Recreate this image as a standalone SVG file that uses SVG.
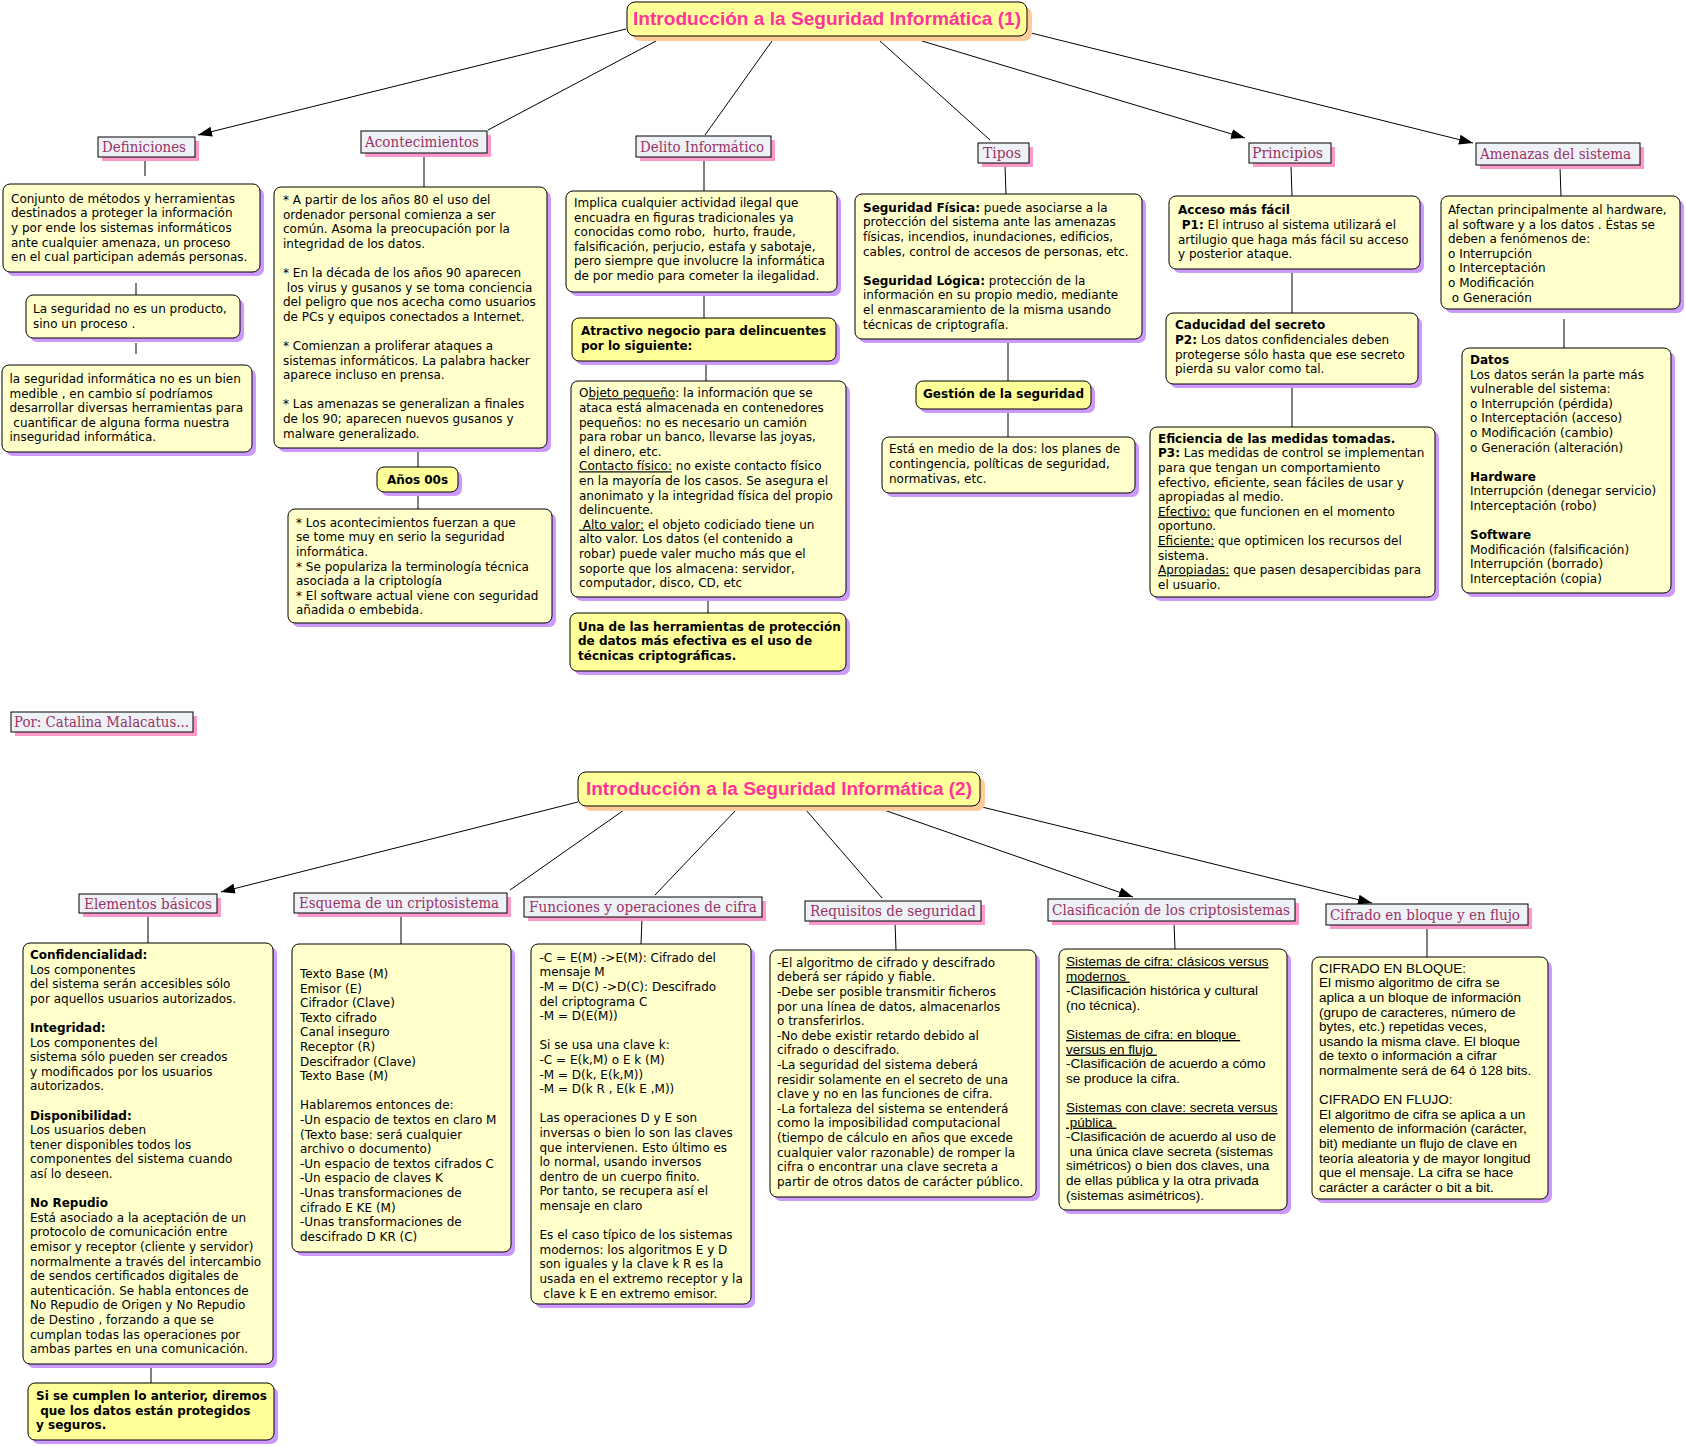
<svg xmlns="http://www.w3.org/2000/svg" width="1686" height="1446" viewBox="0 0 1686 1446">
<style>
.t{font-family:"DejaVu Sans",Verdana,sans-serif;font-size:12px;fill:#000}
.a{font-family:"Liberation Sans",Arial,sans-serif;font-size:13.5px;fill:#000}
.b{font-weight:bold}
.u{text-decoration:underline}
.box{fill:#FFFFCC;stroke:#000;stroke-width:1}
.hbox{fill:#FFFF99;stroke:#000;stroke-width:1}
.sh{fill:#CC99FF}
.lbl{fill:#EEF2F6;stroke:#000;stroke-width:1}
.lsh{fill:#FF99CC}
.lt{font-family:"DejaVu Serif","Liberation Serif",serif;font-size:14px;fill:#993366}
.ttl{fill:#FFFF99;stroke:#000;stroke-width:1}
.tsh{fill:#FFCC99}
.tt{font-family:"Liberation Sans",Arial,sans-serif;font-weight:bold;font-size:18px;fill:#FF3399}
.ln{stroke:#000;stroke-width:1;fill:none}
</style>
<defs>
<marker id="ah" markerWidth="14" markerHeight="10" refX="14" refY="5" orient="auto" markerUnits="userSpaceOnUse">
<path d="M0,0 L14,5 L0,10 z" fill="#000"/>
</marker>
</defs>
<rect width="1686" height="1446" fill="#fff"/>

<g id="connectors">
<line class="ln" x1="626" y1="29" x2="198" y2="135" marker-end="url(#ah)"/>
<line class="ln" x1="656" y1="41" x2="488" y2="130"/>
<line class="ln" x1="772" y1="41" x2="705" y2="135"/>
<line class="ln" x1="880" y1="41" x2="990" y2="140"/>
<line class="ln" x1="922" y1="41" x2="1245" y2="138" marker-end="url(#ah)"/>
<line class="ln" x1="1031" y1="33" x2="1473" y2="143" marker-end="url(#ah)"/>
<line class="ln" x1="578" y1="802" x2="221" y2="892" marker-end="url(#ah)"/>
<line class="ln" x1="624" y1="810" x2="510" y2="890"/>
<line class="ln" x1="736" y1="810" x2="655" y2="895"/>
<line class="ln" x1="806" y1="810" x2="882" y2="898"/>
<line class="ln" x1="884" y1="810" x2="1133" y2="897" marker-end="url(#ah)"/>
<line class="ln" x1="982" y1="807" x2="1372" y2="903" marker-end="url(#ah)"/>
<line class="ln" x1="145" y1="160" x2="145" y2="176"/>
<line class="ln" x1="136" y1="283" x2="136" y2="295"/>
<line class="ln" x1="136" y1="343" x2="136" y2="354"/>
<line class="ln" x1="424" y1="155" x2="424" y2="187"/>
<line class="ln" x1="418" y1="452" x2="418" y2="467"/>
<line class="ln" x1="418" y1="494" x2="418" y2="509"/>
<line class="ln" x1="704" y1="159" x2="704" y2="191"/>
<line class="ln" x1="704" y1="295" x2="704" y2="318"/>
<line class="ln" x1="706" y1="364" x2="706" y2="381"/>
<line class="ln" x1="708" y1="600" x2="708" y2="613"/>
<line class="ln" x1="1005" y1="165" x2="1006" y2="194"/>
<line class="ln" x1="1008" y1="342" x2="1008" y2="381"/>
<line class="ln" x1="1008" y1="413" x2="1008" y2="437"/>
<line class="ln" x1="1291" y1="166" x2="1292" y2="196"/>
<line class="ln" x1="1292" y1="272" x2="1292" y2="313"/>
<line class="ln" x1="1292" y1="387" x2="1292" y2="427"/>
<line class="ln" x1="1560" y1="167" x2="1561" y2="196"/>
<line class="ln" x1="1564" y1="319" x2="1564" y2="348"/>
<line class="ln" x1="148" y1="914" x2="148" y2="943"/>
<line class="ln" x1="151" y1="1367" x2="151" y2="1383"/>
<line class="ln" x1="401" y1="914" x2="401" y2="944"/>
<line class="ln" x1="642" y1="918" x2="641" y2="944"/>
<line class="ln" x1="895" y1="922" x2="896" y2="950"/>
<line class="ln" x1="1174" y1="922" x2="1175" y2="949"/>
<line class="ln" x1="1427" y1="926" x2="1427" y2="957"/>
</g>

<g id="title1">
<rect class="tsh" x="632" y="7" width="400" height="34" rx="8"/>
<rect class="ttl" x="627" y="2" width="400" height="34" rx="8"/>
<text class="tt" x="633" y="25" textLength="388" lengthAdjust="spacingAndGlyphs">Introducción a la Seguridad Informática (1)</text>
</g>

<g id="lbl-definiciones">
<rect class="lsh" x="102" y="141" width="97" height="20"/>
<rect class="lbl" x="98" y="137" width="97" height="20"/>
<text class="lt" x="102" y="151.5" textLength="84" lengthAdjust="spacingAndGlyphs">Definiciones</text>
</g>
<g id="lbl-acontecimientos">
<rect class="lsh" x="365" y="135" width="126" height="22"/>
<rect class="lbl" x="361" y="131" width="126" height="22"/>
<text class="lt" x="365" y="146.5" textLength="114" lengthAdjust="spacingAndGlyphs">Acontecimientos</text>
</g>
<g id="lbl-delito">
<rect class="lsh" x="640" y="140" width="135" height="21"/>
<rect class="lbl" x="636" y="136" width="135" height="21"/>
<text class="lt" x="640" y="151.5" textLength="124" lengthAdjust="spacingAndGlyphs">Delito Informático</text>
</g>
<g id="lbl-tipos">
<rect class="lsh" x="982" y="147" width="51" height="20"/>
<rect class="lbl" x="978" y="143" width="51" height="20"/>
<text class="lt" x="983" y="157.5" textLength="38" lengthAdjust="spacingAndGlyphs">Tipos</text>
</g>
<g id="lbl-principios">
<rect class="lsh" x="1253" y="147" width="82" height="20"/>
<rect class="lbl" x="1249" y="143" width="82" height="20"/>
<text class="lt" x="1252" y="157.5" textLength="71" lengthAdjust="spacingAndGlyphs">Principios</text>
</g>
<g id="lbl-amenazas">
<rect class="lsh" x="1480" y="147" width="164" height="22"/>
<rect class="lbl" x="1476" y="143" width="164" height="22"/>
<text class="lt" x="1480" y="158.5" textLength="151" lengthAdjust="spacingAndGlyphs">Amenazas del sistema</text>
</g>

<g id="def1">
<rect class="sh" x="7" y="188" width="257" height="88" rx="7"/>
<rect class="box" x="3" y="184" width="257" height="88" rx="7"/>
<text class="t" x="11" y="202.7">
<tspan x="11" dy="0">Conjunto de métodos y herramientas</tspan>
<tspan x="11" dy="14.6">destinados a proteger la información</tspan>
<tspan x="11" dy="14.6">y por ende los sistemas informáticos</tspan>
<tspan x="11" dy="14.6">ante cualquier amenaza, un proceso</tspan>
<tspan x="11" dy="14.6">en el cual participan además personas.</tspan>
</text>
</g>
<g id="def2">
<rect class="sh" x="30" y="299" width="214" height="43" rx="7"/>
<rect class="box" x="26" y="295" width="214" height="43" rx="7"/>
<text class="t" x="33" y="313">
<tspan x="33" dy="0">La seguridad no es un producto,</tspan>
<tspan x="33" dy="14.6">sino un proceso .</tspan>
</text>
</g>
<g id="def3">
<rect class="sh" x="6" y="369" width="250" height="87" rx="7"/>
<rect class="box" x="2" y="365" width="250" height="87" rx="7"/>
<text class="t" x="9.5" y="383">
<tspan x="9.5" dy="0">la seguridad informática no es un bien</tspan>
<tspan x="9.5" dy="14.6">medible , en cambio sí podríamos</tspan>
<tspan x="9.5" dy="14.6">desarrollar diversas herramientas para</tspan>
<tspan x="9.5" dy="14.6">&#160;cuantificar de alguna forma nuestra</tspan>
<tspan x="9.5" dy="14.6">inseguridad informática.</tspan>
</text>
</g>

<g id="acont1">
<rect class="sh" x="278" y="191" width="273" height="261" rx="7"/>
<rect class="box" x="274" y="187" width="273" height="261" rx="7"/>
<text class="t" x="283" y="204">
<tspan x="283" dy="0">* A partir de los años 80 el uso del</tspan>
<tspan x="283" dy="14.6">ordenador personal comienza a ser</tspan>
<tspan x="283" dy="14.6">común. Asoma la preocupación por la</tspan>
<tspan x="283" dy="14.6">integridad de los datos.</tspan>
<tspan x="283" dy="29.2">* En la década de los años 90 aparecen</tspan>
<tspan x="283" dy="14.6">&#160;los virus y gusanos y se toma conciencia</tspan>
<tspan x="283" dy="14.6">del peligro que nos acecha como usuarios</tspan>
<tspan x="283" dy="14.6">de PCs y equipos conectados a Internet.</tspan>
<tspan x="283" dy="29.2">* Comienzan a proliferar ataques a</tspan>
<tspan x="283" dy="14.6">sistemas informáticos. La palabra hacker</tspan>
<tspan x="283" dy="14.6">aparece incluso en prensa.</tspan>
<tspan x="283" dy="29.2">* Las amenazas se generalizan a finales</tspan>
<tspan x="283" dy="14.6">de los 90; aparecen nuevos gusanos y</tspan>
<tspan x="283" dy="14.6">malware generalizado.</tspan>
</text>
</g>
<g id="anos00">
<rect class="sh" x="381" y="471" width="81" height="25" rx="7"/>
<rect class="hbox" x="377" y="467" width="81" height="25" rx="7"/>
<text class="t b" x="417.5" y="484" text-anchor="middle">Años 00s</text>
</g>
<g id="acont2">
<rect class="sh" x="292" y="513" width="264" height="114" rx="7"/>
<rect class="box" x="288" y="509" width="264" height="114" rx="7"/>
<text class="t" x="296" y="526.7">
<tspan x="296" dy="0">* Los acontecimientos fuerzan a que</tspan>
<tspan x="296" dy="14.6">se tome muy en serio la seguridad</tspan>
<tspan x="296" dy="14.6">informática.</tspan>
<tspan x="296" dy="14.6">* Se populariza la terminología técnica</tspan>
<tspan x="296" dy="14.6">asociada a la criptología</tspan>
<tspan x="296" dy="14.6">* El software actual viene con seguridad</tspan>
<tspan x="296" dy="14.6">añadida o embebida.</tspan>
</text>
</g>

<g id="delito1">
<rect class="sh" x="570" y="195" width="271" height="101" rx="7"/>
<rect class="box" x="566" y="191" width="271" height="101" rx="7"/>
<text class="t" x="574" y="207">
<tspan x="574" dy="0">Implica cualquier actividad ilegal que</tspan>
<tspan x="574" dy="14.6">encuadra en figuras tradicionales ya</tspan>
<tspan x="574" dy="14.6">conocidas como robo,&#160; hurto, fraude,</tspan>
<tspan x="574" dy="14.6">falsificación, perjucio, estafa y sabotaje,</tspan>
<tspan x="574" dy="14.6">pero siempre que involucre la informática</tspan>
<tspan x="574" dy="14.6">de por medio para cometer la ilegalidad.</tspan>
</text>
</g>
<g id="atractivo">
<rect class="sh" x="576" y="322" width="264" height="43" rx="7"/>
<rect class="hbox" x="572" y="318" width="264" height="43" rx="7"/>
<text class="t b" x="581" y="335">
<tspan x="581" dy="0">Atractivo negocio para delincuentes</tspan>
<tspan x="581" dy="14.6">por lo siguiente:</tspan>
</text>
</g>
<g id="objeto">
<rect class="sh" x="575" y="385" width="275" height="216" rx="7"/>
<rect class="box" x="571" y="381" width="275" height="216" rx="7"/>
<text class="t" x="579" y="397.3">
<tspan x="579" dy="0">O<tspan class="u">bjeto pequeño</tspan>: la información que se</tspan>
<tspan x="579" dy="14.6">ataca está almacenada en contenedores</tspan>
<tspan x="579" dy="14.6">pequeños: no es necesario un camión</tspan>
<tspan x="579" dy="14.6">para robar un banco, llevarse las joyas,</tspan>
<tspan x="579" dy="14.6">el dinero, etc.</tspan>
<tspan x="579" dy="14.6"><tspan class="u">Contacto físico:</tspan> no existe contacto físico</tspan>
<tspan x="579" dy="14.6">en la mayoría de los casos. Se asegura el</tspan>
<tspan x="579" dy="14.6">anonimato y la integridad física del propio</tspan>
<tspan x="579" dy="14.6">delincuente.</tspan>
<tspan x="579" dy="14.6"><tspan class="u">&#160;Alto valor:</tspan> el objeto codiciado tiene un</tspan>
<tspan x="579" dy="14.6">alto valor. Los datos (el contenido a</tspan>
<tspan x="579" dy="14.6">robar) puede valer mucho más que el</tspan>
<tspan x="579" dy="14.6">soporte que los almacena: servidor,</tspan>
<tspan x="579" dy="14.6">computador, disco, CD, etc</tspan>
</text>
</g>
<g id="unadelas">
<rect class="sh" x="574" y="617" width="276" height="58" rx="7"/>
<rect class="hbox" x="570" y="613" width="276" height="58" rx="7"/>
<text class="t b" x="578" y="630.7">
<tspan x="578" dy="0">Una de las herramientas de protección</tspan>
<tspan x="578" dy="14.6">de datos más efectiva es el uso de</tspan>
<tspan x="578" dy="14.6">técnicas criptográficas.</tspan>
</text>
</g>

<g id="tipos1">
<rect class="sh" x="859" y="198" width="287" height="145" rx="7"/>
<rect class="box" x="855" y="194" width="287" height="145" rx="7"/>
<text class="t" x="863" y="211.7">
<tspan x="863" dy="0"><tspan class="b">Seguridad Física:</tspan> puede asociarse a la</tspan>
<tspan x="863" dy="14.6">protección del sistema ante las amenazas</tspan>
<tspan x="863" dy="14.6">físicas, incendios, inundaciones, edificios,</tspan>
<tspan x="863" dy="14.6">cables, control de accesos de personas, etc.</tspan>
<tspan x="863" dy="29.2"><tspan class="b">Seguridad Lógica:</tspan> protección de la</tspan>
<tspan x="863" dy="14.6">información en su propio medio, mediante</tspan>
<tspan x="863" dy="14.6">el enmascaramiento de la misma usando</tspan>
<tspan x="863" dy="14.6">técnicas de criptografía.</tspan>
</text>
</g>
<g id="gestion">
<rect class="sh" x="920" y="385" width="175" height="28" rx="7"/>
<rect class="hbox" x="916" y="381" width="175" height="28" rx="7"/>
<text class="t b" x="1003.5" y="398.3" text-anchor="middle">Gestión de la seguridad</text>
</g>
<g id="estaenmedio">
<rect class="sh" x="886" y="441" width="253" height="56" rx="7"/>
<rect class="box" x="882" y="437" width="253" height="56" rx="7"/>
<text class="t" x="889" y="453.3">
<tspan x="889" dy="0">Está en medio de la dos: los planes de</tspan>
<tspan x="889" dy="14.6">contingencia, políticas de seguridad,</tspan>
<tspan x="889" dy="14.6">normativas, etc.</tspan>
</text>
</g>

<g id="acceso">
<rect class="sh" x="1173" y="200" width="251" height="73" rx="7"/>
<rect class="box" x="1169" y="196" width="251" height="73" rx="7"/>
<text class="t" x="1178" y="214.3">
<tspan x="1178" dy="0" class="b">Acceso más fácil</tspan>
<tspan x="1178" dy="14.6">&#160;<tspan class="b">P1:</tspan> El intruso al sistema utilizará el</tspan>
<tspan x="1178" dy="14.6">artilugio que haga más fácil su acceso</tspan>
<tspan x="1178" dy="14.6">y posterior ataque.</tspan>
</text>
</g>
<g id="caducidad">
<rect class="sh" x="1170" y="317" width="252" height="71" rx="7"/>
<rect class="box" x="1166" y="313" width="252" height="71" rx="7"/>
<text class="t" x="1175" y="329.3">
<tspan x="1175" dy="0" class="b">Caducidad del secreto</tspan>
<tspan x="1175" dy="14.6"><tspan class="b">P2:</tspan> Los datos confidenciales deben</tspan>
<tspan x="1175" dy="14.6">protegerse sólo hasta que ese secreto</tspan>
<tspan x="1175" dy="14.6">pierda su valor como tal.</tspan>
</text>
</g>
<g id="eficiencia">
<rect class="sh" x="1154" y="431" width="285" height="170" rx="7"/>
<rect class="box" x="1150" y="427" width="285" height="170" rx="7"/>
<text class="t" x="1158" y="442.7">
<tspan x="1158" dy="0" class="b">Eficiencia de las medidas tomadas.</tspan>
<tspan x="1158" dy="14.6"><tspan class="b">P3:</tspan> Las medidas de control se implementan</tspan>
<tspan x="1158" dy="14.6">para que tengan un comportamiento</tspan>
<tspan x="1158" dy="14.6">efectivo, eficiente, sean fáciles de usar y</tspan>
<tspan x="1158" dy="14.6">apropiadas al medio.</tspan>
<tspan x="1158" dy="14.6"><tspan class="u">Efectivo:</tspan> que funcionen en el momento</tspan>
<tspan x="1158" dy="14.6">oportuno.</tspan>
<tspan x="1158" dy="14.6"><tspan class="u">Eficiente:</tspan> que optimicen los recursos del</tspan>
<tspan x="1158" dy="14.6">sistema.</tspan>
<tspan x="1158" dy="14.6"><tspan class="u">Apropiadas:</tspan> que pasen desapercibidas para</tspan>
<tspan x="1158" dy="14.6">el usuario.</tspan>
</text>
</g>

<g id="afectan">
<rect class="sh" x="1445" y="200" width="239" height="113" rx="7"/>
<rect class="box" x="1441" y="196" width="239" height="113" rx="7"/>
<text class="t" x="1448" y="214">
<tspan x="1448" dy="0">Afectan principalmente al hardware,</tspan>
<tspan x="1448" dy="14.6">al software y a los datos . Éstas se</tspan>
<tspan x="1448" dy="14.6">deben a fenómenos de:</tspan>
<tspan x="1448" dy="14.6">o Interrupción</tspan>
<tspan x="1448" dy="14.6">o Interceptación</tspan>
<tspan x="1448" dy="14.6">o Modificación</tspan>
<tspan x="1448" dy="14.6">&#160;o Generación</tspan>
</text>
</g>
<g id="datos">
<rect class="sh" x="1466" y="352" width="209" height="245" rx="7"/>
<rect class="box" x="1462" y="348" width="209" height="245" rx="7"/>
<text class="t" x="1470" y="364">
<tspan x="1470" dy="0" class="b">Datos</tspan>
<tspan x="1470" dy="14.6">Los datos serán la parte más</tspan>
<tspan x="1470" dy="14.6">vulnerable del sistema:</tspan>
<tspan x="1470" dy="14.6">o Interrupción (pérdida)</tspan>
<tspan x="1470" dy="14.6">o Interceptación (acceso)</tspan>
<tspan x="1470" dy="14.6">o Modificación (cambio)</tspan>
<tspan x="1470" dy="14.6">o Generación (alteración)</tspan>
<tspan x="1470" dy="29.2" class="b">Hardware</tspan>
<tspan x="1470" dy="14.6">Interrupción (denegar servicio)</tspan>
<tspan x="1470" dy="14.6">Interceptación (robo)</tspan>
<tspan x="1470" dy="29.2" class="b">Software</tspan>
<tspan x="1470" dy="14.6">Modificación (falsificación)</tspan>
<tspan x="1470" dy="14.6">Interrupción (borrado)</tspan>
<tspan x="1470" dy="14.6">Interceptación (copia)</tspan>
</text>
</g>

<g id="lbl-autor">
<rect class="lsh" x="15" y="716" width="182" height="20"/>
<rect class="lbl" x="11" y="712" width="182" height="20"/>
<text class="lt" x="14" y="727" textLength="175" lengthAdjust="spacingAndGlyphs">Por: Catalina Malacatus...</text>
</g>

<g id="title2">
<rect class="tsh" x="583" y="777" width="402" height="34" rx="8"/>
<rect class="ttl" x="578" y="772" width="402" height="34" rx="8"/>
<text class="tt" x="586" y="795" textLength="386" lengthAdjust="spacingAndGlyphs">Introducción a la Seguridad Informática (2)</text>
</g>

<g id="lbl-elementos">
<rect class="lsh" x="83" y="898" width="138" height="19"/>
<rect class="lbl" x="79" y="894" width="138" height="19"/>
<text class="lt" x="84" y="908.5" textLength="128" lengthAdjust="spacingAndGlyphs">Elementos básicos</text>
</g>
<g id="lbl-esquema">
<rect class="lsh" x="298" y="897" width="213" height="20"/>
<rect class="lbl" x="294" y="893" width="213" height="20"/>
<text class="lt" x="299" y="907.5" textLength="200" lengthAdjust="spacingAndGlyphs">Esquema de un criptosistema</text>
</g>
<g id="lbl-funciones">
<rect class="lsh" x="528" y="901" width="238" height="20"/>
<rect class="lbl" x="524" y="897" width="238" height="20"/>
<text class="lt" x="529" y="911.5" textLength="228" lengthAdjust="spacingAndGlyphs">Funciones y operaciones de cifra</text>
</g>
<g id="lbl-requisitos">
<rect class="lsh" x="809" y="905" width="176" height="20"/>
<rect class="lbl" x="805" y="901" width="176" height="20"/>
<text class="lt" x="810" y="915.5" textLength="166" lengthAdjust="spacingAndGlyphs">Requisitos de seguridad</text>
</g>
<g id="lbl-clasificacion">
<rect class="lsh" x="1052" y="903" width="247" height="22"/>
<rect class="lbl" x="1048" y="899" width="247" height="22"/>
<text class="lt" x="1052" y="914.5" textLength="238" lengthAdjust="spacingAndGlyphs">Clasificación de los criptosistemas</text>
</g>
<g id="lbl-cifrado">
<rect class="lsh" x="1330" y="908" width="202" height="21"/>
<rect class="lbl" x="1326" y="904" width="202" height="21"/>
<text class="lt" x="1330" y="919.5" textLength="190" lengthAdjust="spacingAndGlyphs">Cifrado en bloque y en flujo</text>
</g>

<g id="elementos">
<rect class="sh" x="27" y="947" width="250" height="421" rx="7"/>
<rect class="box" x="23" y="943" width="250" height="421" rx="7"/>
<text class="t" x="30" y="959">
<tspan x="30" dy="0" class="b">Confidencialidad:</tspan>
<tspan x="30" dy="14.6">Los componentes</tspan>
<tspan x="30" dy="14.6">del sistema serán accesibles sólo</tspan>
<tspan x="30" dy="14.6">por aquellos usuarios autorizados.</tspan>
<tspan x="30" dy="29.2" class="b">Integridad:</tspan>
<tspan x="30" dy="14.6">Los componentes del</tspan>
<tspan x="30" dy="14.6">sistema sólo pueden ser creados</tspan>
<tspan x="30" dy="14.6">y modificados por los usuarios</tspan>
<tspan x="30" dy="14.6">autorizados.</tspan>
<tspan x="30" dy="29.2" class="b">Disponibilidad:</tspan>
<tspan x="30" dy="14.6">Los usuarios deben</tspan>
<tspan x="30" dy="14.6">tener disponibles todos los</tspan>
<tspan x="30" dy="14.6">componentes del sistema cuando</tspan>
<tspan x="30" dy="14.6">así lo deseen.</tspan>
<tspan x="30" dy="29.2" class="b">No Repudio</tspan>
<tspan x="30" dy="14.6">Está asociado a la aceptación de un</tspan>
<tspan x="30" dy="14.6">protocolo de comunicación entre</tspan>
<tspan x="30" dy="14.6">emisor y receptor (cliente y servidor)</tspan>
<tspan x="30" dy="14.6">normalmente a través del intercambio</tspan>
<tspan x="30" dy="14.6">de sendos certificados digitales de</tspan>
<tspan x="30" dy="14.6">autenticación. Se habla entonces de</tspan>
<tspan x="30" dy="14.6">No Repudio de Origen y No Repudio</tspan>
<tspan x="30" dy="14.6">de Destino , forzando a que se</tspan>
<tspan x="30" dy="14.6">cumplan todas las operaciones por</tspan>
<tspan x="30" dy="14.6">ambas partes en una comunicación.</tspan>
</text>
</g>
<g id="sisecumplen">
<rect class="sh" x="32" y="1387" width="246" height="57" rx="7"/>
<rect class="hbox" x="28" y="1383" width="246" height="57" rx="7"/>
<text class="t b" x="36" y="1400">
<tspan x="36" dy="0">Si se cumplen lo anterior, diremos</tspan>
<tspan x="36" dy="14.6">&#160;que los datos están protegidos</tspan>
<tspan x="36" dy="14.6">y seguros.</tspan>
</text>
</g>

<g id="esquema">
<rect class="sh" x="296" y="948" width="219" height="308" rx="7"/>
<rect class="box" x="292" y="944" width="219" height="308" rx="7"/>
<text class="t" x="300" y="978">
<tspan x="300" dy="0">Texto Base (M)</tspan>
<tspan x="300" dy="14.6">Emisor (E)</tspan>
<tspan x="300" dy="14.6">Cifrador (Clave)</tspan>
<tspan x="300" dy="14.6">Texto cifrado</tspan>
<tspan x="300" dy="14.6">Canal inseguro</tspan>
<tspan x="300" dy="14.6">Receptor (R)</tspan>
<tspan x="300" dy="14.6">Descifrador (Clave)</tspan>
<tspan x="300" dy="14.6">Texto Base (M)</tspan>
<tspan x="300" dy="29.2">Hablaremos entonces de:</tspan>
<tspan x="300" dy="14.6">-Un espacio de textos en claro M</tspan>
<tspan x="300" dy="14.6">(Texto base: será cualquier</tspan>
<tspan x="300" dy="14.6">archivo o documento)</tspan>
<tspan x="300" dy="14.6">-Un espacio de textos cifrados C</tspan>
<tspan x="300" dy="14.6">-Un espacio de claves K</tspan>
<tspan x="300" dy="14.6">-Unas transformaciones de</tspan>
<tspan x="300" dy="14.6">cifrado E KE (M)</tspan>
<tspan x="300" dy="14.6">-Unas transformaciones de</tspan>
<tspan x="300" dy="14.6">descifrado D KR (C)</tspan>
</text>
</g>

<g id="funciones">
<rect class="sh" x="535" y="948" width="220" height="360" rx="7"/>
<rect class="box" x="531" y="944" width="220" height="360" rx="7"/>
<text class="t" x="539.5" y="961.7">
<tspan x="539.5" dy="0">-C = E(M) -&gt;E(M): Cifrado del</tspan>
<tspan x="539.5" dy="14.6">mensaje M</tspan>
<tspan x="539.5" dy="14.6">-M = D(C) -&gt;D(C): Descifrado</tspan>
<tspan x="539.5" dy="14.6">del criptograma C</tspan>
<tspan x="539.5" dy="14.6">-M = D(E(M))</tspan>
<tspan x="539.5" dy="29.2">Si se usa una clave k:</tspan>
<tspan x="539.5" dy="14.6">-C = E(k,M) o E k (M)</tspan>
<tspan x="539.5" dy="14.6">-M = D(k, E(k,M))</tspan>
<tspan x="539.5" dy="14.6">-M = D(k R , E(k E ,M))</tspan>
<tspan x="539.5" dy="29.2">Las operaciones D y E son</tspan>
<tspan x="539.5" dy="14.6">inversas o bien lo son las claves</tspan>
<tspan x="539.5" dy="14.6">que intervienen. Esto último es</tspan>
<tspan x="539.5" dy="14.6">lo normal, usando inversos</tspan>
<tspan x="539.5" dy="14.6">dentro de un cuerpo finito.</tspan>
<tspan x="539.5" dy="14.6">Por tanto, se recupera así el</tspan>
<tspan x="539.5" dy="14.6">mensaje en claro</tspan>
<tspan x="539.5" dy="29.2">Es el caso típico de los sistemas</tspan>
<tspan x="539.5" dy="14.6">modernos: los algoritmos E y D</tspan>
<tspan x="539.5" dy="14.6">son iguales y la clave k R es la</tspan>
<tspan x="539.5" dy="14.6">usada en el extremo receptor y la</tspan>
<tspan x="539.5" dy="14.6">&#160;clave k E en extremo emisor.</tspan>
</text>
</g>

<g id="requisitos">
<rect class="sh" x="774" y="954" width="266" height="247" rx="7"/>
<rect class="box" x="770" y="950" width="266" height="247" rx="7"/>
<text class="t" x="777" y="966.7">
<tspan x="777" dy="0">-El algoritmo de cifrado y descifrado</tspan>
<tspan x="777" dy="14.6">deberá ser rápido y fiable.</tspan>
<tspan x="777" dy="14.6">-Debe ser posible transmitir ficheros</tspan>
<tspan x="777" dy="14.6">por una línea de datos, almacenarlos</tspan>
<tspan x="777" dy="14.6">o transferirlos.</tspan>
<tspan x="777" dy="14.6">-No debe existir retardo debido al</tspan>
<tspan x="777" dy="14.6">cifrado o descifrado.</tspan>
<tspan x="777" dy="14.6">-La seguridad del sistema deberá</tspan>
<tspan x="777" dy="14.6">residir solamente en el secreto de una</tspan>
<tspan x="777" dy="14.6">clave y no en las funciones de cifra.</tspan>
<tspan x="777" dy="14.6">-La fortaleza del sistema se entenderá</tspan>
<tspan x="777" dy="14.6">como la imposibilidad computacional</tspan>
<tspan x="777" dy="14.6">(tiempo de cálculo en años que excede</tspan>
<tspan x="777" dy="14.6">cualquier valor razonable) de romper la</tspan>
<tspan x="777" dy="14.6">cifra o encontrar una clave secreta a</tspan>
<tspan x="777" dy="14.6">partir de otros datos de carácter público.</tspan>
</text>
</g>

<g id="clasificacion">
<rect class="sh" x="1063" y="953" width="228" height="261" rx="7"/>
<rect class="box" x="1059" y="949" width="228" height="261" rx="7"/>
<text class="a" x="1066" y="966">
<tspan x="1066" dy="0" class="u">Sistemas de cifra: clásicos versus</tspan>
<tspan x="1066" dy="14.6" class="u">modernos&#160;</tspan>
<tspan x="1066" dy="14.6">-Clasificación histórica y cultural</tspan>
<tspan x="1066" dy="14.6">(no técnica).</tspan>
<tspan x="1066" dy="29.2" class="u">Sistemas de cifra: en bloque&#160;</tspan>
<tspan x="1066" dy="14.6" class="u">versus en flujo&#160;</tspan>
<tspan x="1066" dy="14.6">-Clasificación de acuerdo a cómo</tspan>
<tspan x="1066" dy="14.6">se produce la cifra.</tspan>
<tspan x="1066" dy="29.2" class="u">Sistemas con clave: secreta versus</tspan>
<tspan x="1066" dy="14.6" class="u">&#160;pública&#160;</tspan>
<tspan x="1066" dy="14.6">-Clasificación de acuerdo al uso de</tspan>
<tspan x="1066" dy="14.6">&#160;una única clave secreta (sistemas</tspan>
<tspan x="1066" dy="14.6">simétricos) o bien dos claves, una</tspan>
<tspan x="1066" dy="14.6">de ellas pública y la otra privada</tspan>
<tspan x="1066" dy="14.6">(sistemas asimétricos).</tspan>
</text>
</g>

<g id="cifrado">
<rect class="sh" x="1316" y="961" width="236" height="242" rx="7"/>
<rect class="box" x="1312" y="957" width="236" height="242" rx="7"/>
<text class="a" x="1319" y="972.7">
<tspan x="1319" dy="0">CIFRADO EN BLOQUE:</tspan>
<tspan x="1319" dy="14.6">El mismo algoritmo de cifra se</tspan>
<tspan x="1319" dy="14.6">aplica a un bloque de información</tspan>
<tspan x="1319" dy="14.6">(grupo de caracteres, número de</tspan>
<tspan x="1319" dy="14.6">bytes, etc.) repetidas veces,</tspan>
<tspan x="1319" dy="14.6">usando la misma clave. El bloque</tspan>
<tspan x="1319" dy="14.6">de texto o información a cifrar</tspan>
<tspan x="1319" dy="14.6">normalmente será de 64 ó 128 bits.</tspan>
<tspan x="1319" dy="29.2">CIFRADO EN FLUJO:</tspan>
<tspan x="1319" dy="14.6">El algoritmo de cifra se aplica a un</tspan>
<tspan x="1319" dy="14.6">elemento de información (carácter,</tspan>
<tspan x="1319" dy="14.6">bit) mediante un flujo de clave en</tspan>
<tspan x="1319" dy="14.6">teoría aleatoria y de mayor longitud</tspan>
<tspan x="1319" dy="14.6">que el mensaje. La cifra se hace</tspan>
<tspan x="1319" dy="14.6">carácter a carácter o bit a bit.</tspan>
</text>
</g>
</svg>
